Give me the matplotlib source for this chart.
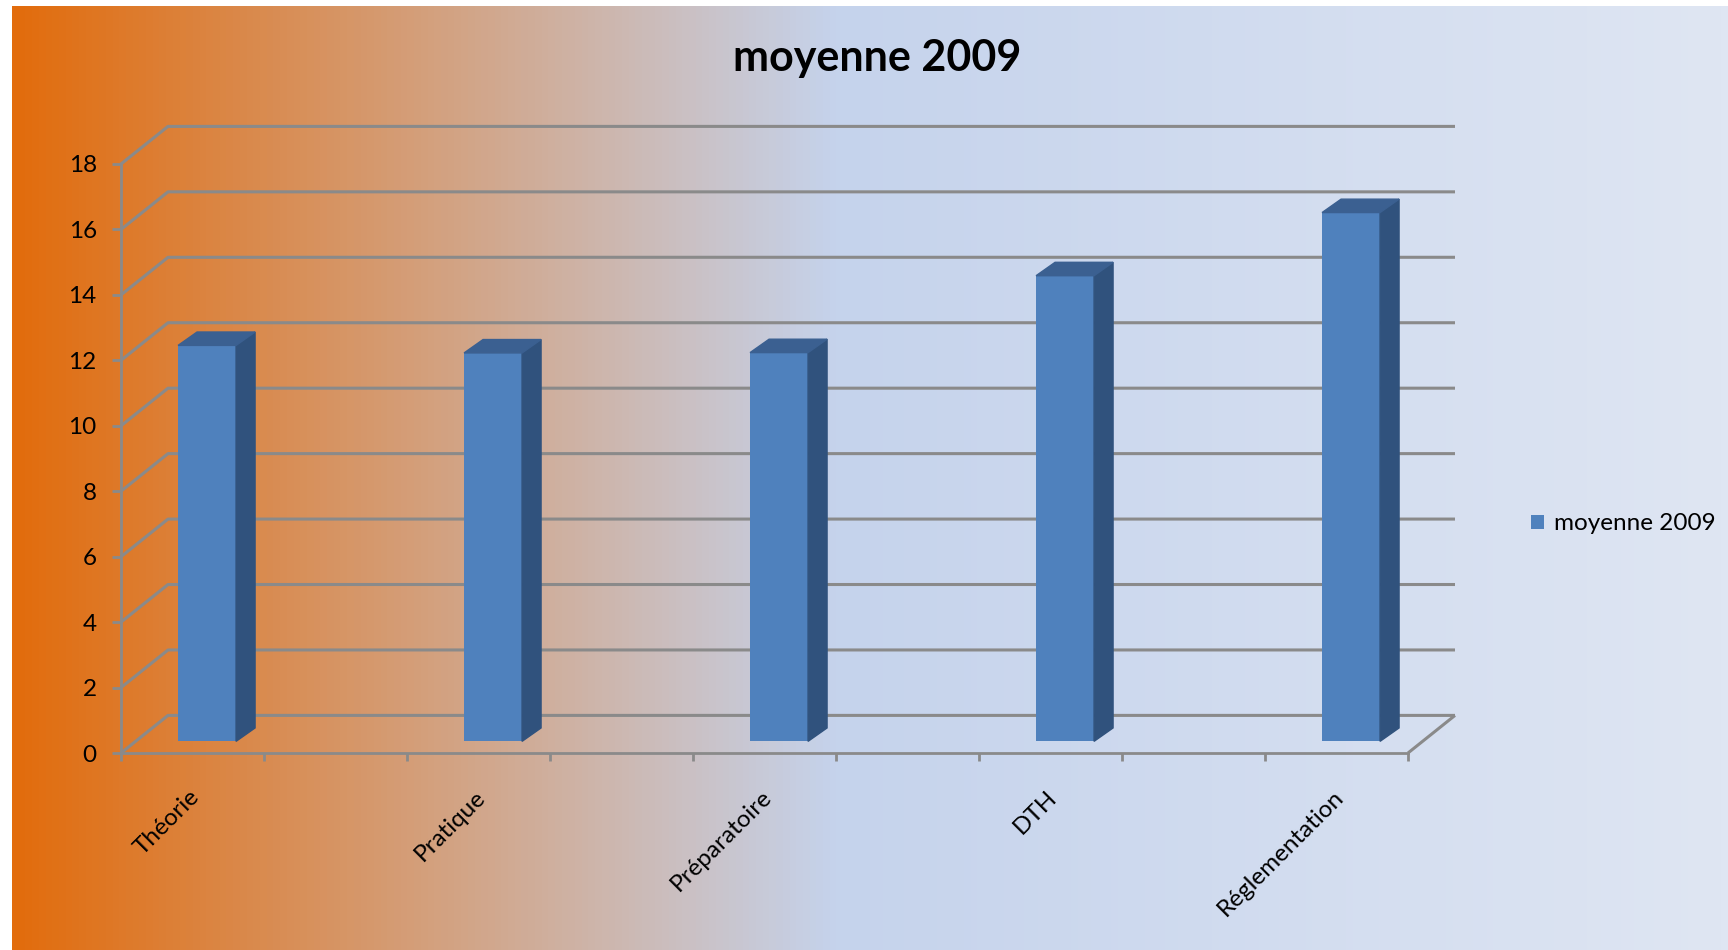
import numpy as np
import matplotlib.pyplot as plt
from matplotlib.patches import Polygon
from matplotlib.colors import LinearSegmentedColormap

# data
categories = ['Théorie', 'Pratique', 'Préparatoire', 'DTH', 'Réglementation']
moyenne_2009 = [12.1, 11.87, 11.88, 14.23, 16.16]
y_ticks = list(range(0, 19, 2))
series_name = 'moyenne 2009'

plt.rcParams['font.family'] = ['Lato', 'DejaVu Sans']

W, H = 1728, 950
fig = plt.figure(figsize=(W / 100, H / 100), dpi=100)

# gradient background (orange -> light blue)
bg = fig.add_axes([12 / W, 0, 1 - 12 / W, 1 - 6 / H])
cmap = LinearSegmentedColormap.from_list(
    'bg', [(0, '#E26C0C'), (0.48, '#C5D3EC'), (1, '#DFE6F3')])
bg.imshow(np.linspace(0, 1, 512)[None, :], aspect='auto', cmap=cmap, extent=[0, 1, 0, 1])
bg.axis('off')

# front plane of the fake 3d box
ax = fig.add_axes([121 / W, 1 - 753 / H, 1287 / W, 589 / H])
ax.set_xlim(-0.25, len(categories) - 0.75)
ax.set_ylim(0, 18)
ax.patch.set_visible(False)

px_x = 1287 / 4.5   # pixels per x unit
px_y = 589 / 18     # pixels per y unit
dxw, dyw = 47 / px_x, 37.6 / px_y      # wall depth
dxb, dyb = 19 / px_x, 13.4 / px_y      # bar depth
f0 = 0.31                              # depth where bar front face sits
bw = 58 / px_x

grey = '#8a8a8a'
grid_kw = dict(color=grey, lw=2.2, clip_on=False, zorder=1, solid_capstyle='butt')
x0, x1 = ax.get_xlim()
for y in y_ticks:
    ax.plot([x0, x0 + dxw, x1 + dxw], [y, y + dyw, y + dyw], **grid_kw)
ax.plot([x1, x1 + dxw], [0, dyw], **grid_kw)

for s in ['top', 'right']:
    ax.spines[s].set_visible(False)
for s in ['left', 'bottom']:
    ax.spines[s].set_color(grey)
    ax.spines[s].set_linewidth(2)

# bars: front face through ax.bar, side + top as polygons
front_c, side_c, top_c = '#4F81BD', '#30527D', '#3B6091'
xs = np.arange(len(categories)) + f0 * dxw
base = f0 * dyw
bars = ax.bar(xs, moyenne_2009, width=bw, bottom=base, color=front_c,
              label=series_name, zorder=3)
for x, v in zip(xs, moyenne_2009):
    l, r, t = x - bw / 2, x + bw / 2, base + v
    ax.add_patch(Polygon([(r, base), (r + dxb, base + dyb), (r + dxb, t + dyb), (r, t)],
                         color=side_c, zorder=3, clip_on=False))
    ax.add_patch(Polygon([(l, t), (l + dxb, t + dyb), (r + dxb, t + dyb), (r, t)],
                         color=top_c, zorder=3, clip_on=False))

ax.set_xticks(np.arange(-0.25, len(categories) - 0.74, 0.5))
ax.set_xticklabels([])
ax.tick_params(axis='x', length=6, width=2, color=grey, direction='out')
ax.set_yticks(y_ticks)
ax.tick_params(axis='y', length=6.5, width=2, color=grey, direction='out',
               labelsize=17.5, pad=11)

for i, c in enumerate(categories):
    ax.text(i + 0.012, -1.25, c, rotation=45, ha='right', va='center',
            rotation_mode='anchor', fontsize=17.5)

fig.text(876.7 / W, 1 - 58 / H, 'moyenne 2009', ha='center', va='center',
         fontsize=31, fontweight='bold')

fig.legend(handles=[bars], labels=[series_name], loc='center left',
           bbox_to_anchor=(1531 / W, 1 - 524 / H), frameon=False,
           borderpad=0, borderaxespad=0, handlelength=0.55, handleheight=0.55,
           handletextpad=0.4, fontsize=17.5)

fig.savefig('out.png', dpi=100)
